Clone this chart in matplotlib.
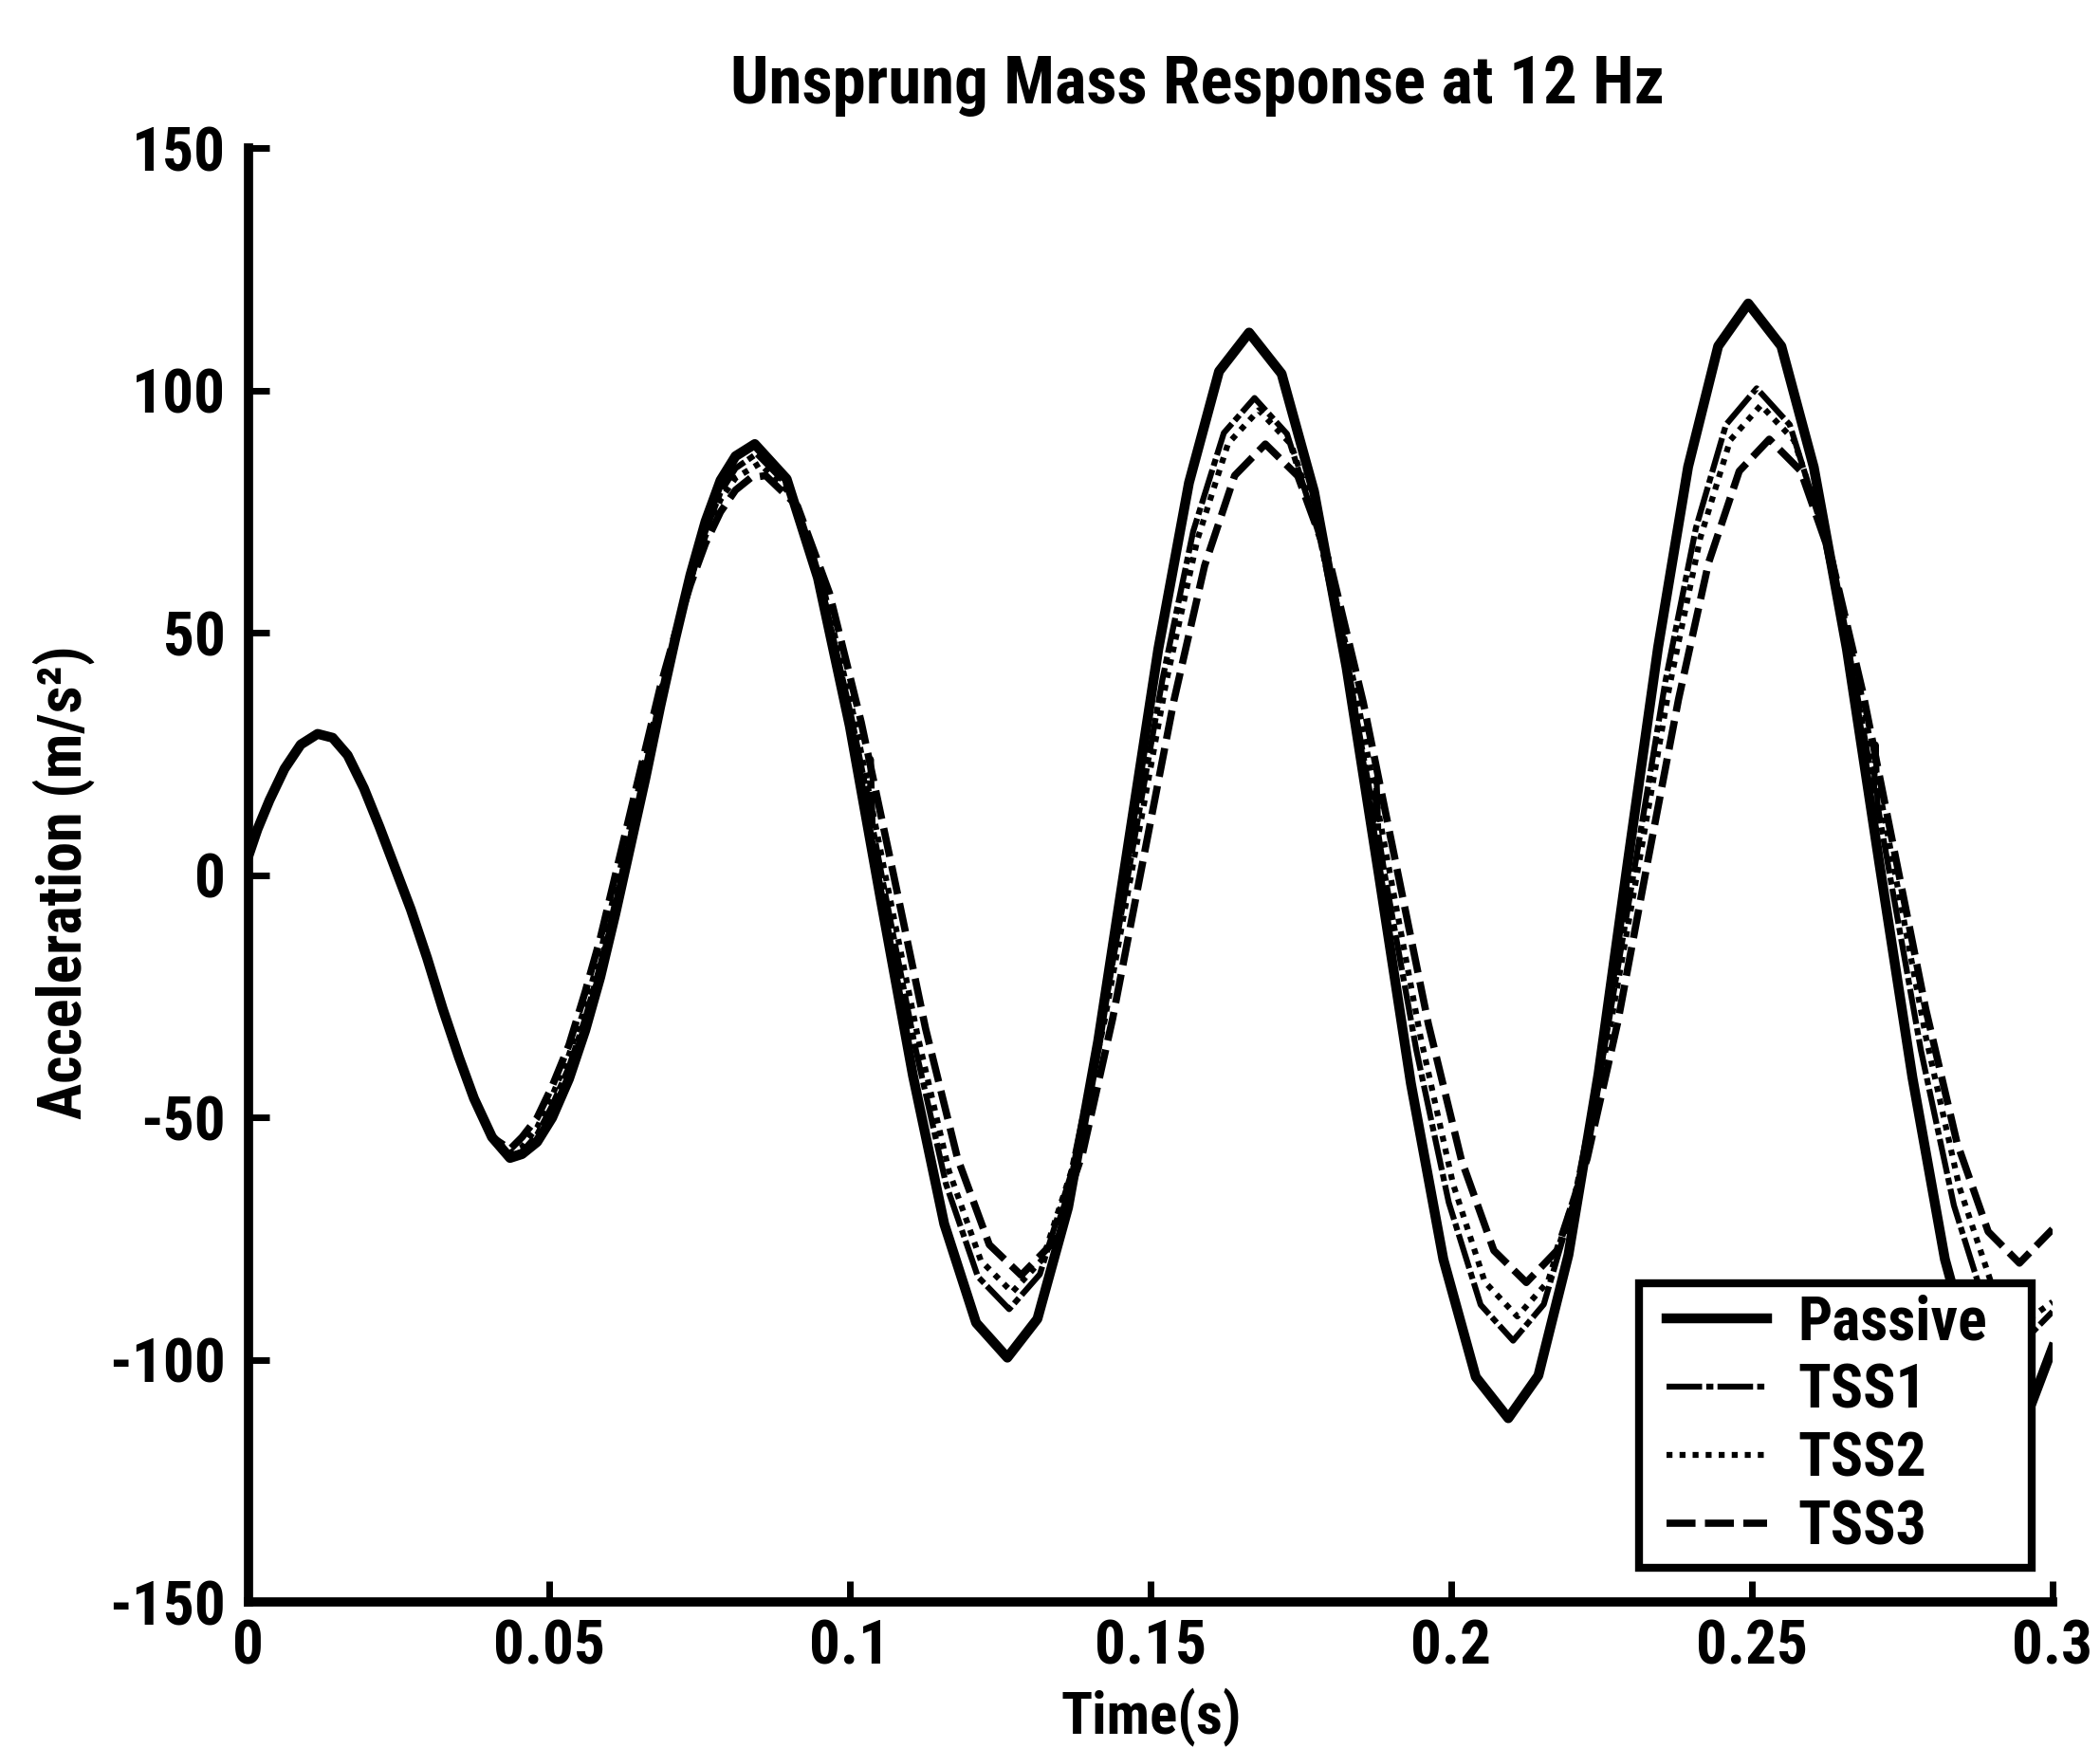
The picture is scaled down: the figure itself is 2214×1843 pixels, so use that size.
import os
import matplotlib
matplotlib.use("Agg")
import matplotlib.pyplot as plt
from matplotlib import font_manager
from matplotlib.font_manager import FontProperties
from matplotlib.lines import Line2D
from matplotlib.legend_handler import HandlerLine2D
import numpy as np

# ---- data: unsprung mass acceleration (m/s^2) vs time (s) ----
# shared start of the response (all four systems coincide here)
start_t = [0, 0.0015, 0.0035, 0.006, 0.0087, 0.0115, 0.014, 0.0165, 0.0192, 0.0218,
           0.0244, 0.027, 0.0297, 0.0323, 0.035, 0.0375, 0.0405]
start_a = [4, 9.5, 15.5, 22, 27, 29.2, 28.4, 24.8, 18, 10,
           1.5, -7, -17, -27.5, -37.5, -46, -54]

passive_t = [0.0435, 0.0455, 0.048, 0.0505, 0.0533, 0.056, 0.0585, 0.061, 0.0635, 0.066,
             0.0685, 0.071, 0.0735, 0.076, 0.0785, 0.081, 0.0842,
             0.0895, 0.0947, 0.1000, 0.1052, 0.1105, 0.1157, 0.1210, 0.1262,
             0.1312, 0.1363, 0.1413, 0.1463, 0.1513, 0.1564, 0.1614, 0.1664,
             0.1718, 0.1772, 0.1826, 0.1880, 0.1933, 0.1987, 0.2041, 0.2095,
             0.2145, 0.2195, 0.2245, 0.2294, 0.2344, 0.2394, 0.2444, 0.2494,
             0.2549, 0.2603, 0.2658, 0.2712, 0.2767, 0.2821, 0.2876, 0.2930, 0.2965, 0.3]
passive_a = [-58.3, -57.5, -55, -50, -42, -32, -21, -8, 6, 20,
             35, 49, 62, 73, 81.5, 86.5, 89,
             81.8, 61.4, 30.8, -5.3, -41.3, -71.9, -92.3, -99.5,
             -91.5, -68.5, -34.2, 6.3, 46.7, 81.0, 104.0, 112,
             103.5, 79.2, 42.9, 0, -42.9, -79.2, -103.5, -112,
             -103.2, -78.3, -41.0, 3, 47.0, 84.3, 109.2, 118,
             109.2, 84.2, 46.7, 2.5, -41.7, -79.2, -104.2, -113, -109, -97.5]

tss1_t = [0.0435, 0.0455, 0.048, 0.0505, 0.0533, 0.056, 0.0585, 0.061, 0.0635, 0.066,
          0.0685, 0.071, 0.0735, 0.076, 0.0785, 0.081, 0.0845,
          0.0898, 0.0950, 0.1003, 0.1033, 0.1035, 0.1038, 0.1055, 0.1108, 0.1160, 0.1213, 0.1265,
          0.1316, 0.1367, 0.1418, 0.1469, 0.1520, 0.1571, 0.1622, 0.1673,
          0.1727, 0.1781, 0.1834, 0.1873, 0.1876, 0.1879, 0.1888, 0.1942, 0.1996, 0.2049, 0.2103,
          0.2154, 0.2204, 0.2255, 0.2306, 0.2356, 0.2407, 0.2457, 0.2508,
          0.2563, 0.2617, 0.2672, 0.2703, 0.2706, 0.2709, 0.2727, 0.2781, 0.2836, 0.2890, 0.2945, 0.3]
tss1_a = [-57.8, -57, -53.5, -47.5, -39.5, -29.5, -18.5, -5.5, 8, 21.5,
          35.5, 49, 61, 71, 79, 84, 87,
          80.3, 61.2, 32.5, 14, 24, 10, -1.3, -35.0, -63.7, -82.8, -89.5,
          -82.3, -62.0, -31.5, 4.5, 40.5, 71.0, 91.3, 98.5,
          91.1, 70.0, 38.5, 11.5, 20, 8.5, 1.3, -36.0, -67.5, -88.6, -96,
          -88.5, -67.2, -35.4, 2.3, 39.9, 71.7, 93.0, 100.5,
          93.0, 71.6, 39.5, 17.5, 27, 14.5, 1.8, -36.0, -68.1, -89.5, -97, -90]

tss2_t = [0.0435, 0.0455, 0.048, 0.0505, 0.0533, 0.056, 0.0585, 0.061, 0.0635, 0.066,
          0.0685, 0.071, 0.0735, 0.076, 0.0785, 0.081, 0.085,
          0.0903, 0.0955, 0.1008, 0.106, 0.1113, 0.1165, 0.1218, 0.127,
          0.1321, 0.1373, 0.1424, 0.1475, 0.1526, 0.1578, 0.1629, 0.168,
          0.1734, 0.1788, 0.1841, 0.1895, 0.1949, 0.2003, 0.2056, 0.211,
          0.2161, 0.2211, 0.2262, 0.2313, 0.2363, 0.2414, 0.2464, 0.2515,
          0.257, 0.2625, 0.268, 0.2735, 0.279, 0.2845, 0.29, 0.2955, 0.3]
tss2_a = [-57.2, -56, -52, -45.5, -37, -27, -16, -3, 10.5, 24,
          37.5, 50, 61, 70, 77.5, 82, 85,
          78.5, 60.0, 32.2, -0.5, -33.2, -61.0, -79.5, -86,
          -79.1, -59.3, -29.8, 5, 39.8, 69.3, 89.1, 96,
          88.9, 68.6, 38.3, 2.5, -33.3, -63.6, -83.9, -91,
          -83.8, -63.5, -33.0, 3, 39.0, 69.5, 89.8, 97,
          89.8, 69.3, 38.7, 2.5, -33.7, -64.3, -84.8, -92, -88]

tss3_t = [0.0435, 0.0455, 0.048, 0.0505, 0.0533, 0.056, 0.0585, 0.061, 0.0635, 0.066,
          0.0685, 0.071, 0.0735, 0.076, 0.0785, 0.081, 0.0835, 0.086,
          0.0913, 0.0966, 0.1019, 0.1073, 0.1126, 0.1179, 0.1232, 0.1285,
          0.1336, 0.1387, 0.1437, 0.1488, 0.1539, 0.1590, 0.1640, 0.1691,
          0.1745, 0.1800, 0.1854, 0.1908, 0.1962, 0.2017, 0.2071, 0.2125,
          0.2176, 0.2226, 0.2277, 0.2327, 0.2378, 0.2428, 0.2479, 0.2529,
          0.2581, 0.2633, 0.2685, 0.2737, 0.2789, 0.2841, 0.2893, 0.2945, 0.3]
tss3_a = [-56.5, -54, -50, -43.5, -35, -24, -13, 0, 13, 26,
          39, 50, 60, 68.5, 75, 79.5, 82, 82.5,
          76.2, 58.3, 31.6, 0, -31.6, -58.3, -76.2, -82.5,
          -76.0, -57.4, -29.6, 3.3, 36.1, 63.9, 82.5, 89,
          82.4, 63.7, 35.6, 2.5, -30.6, -58.7, -77.4, -84,
          -77.4, -58.5, -30.3, 3, 36.3, 64.5, 83.4, 90,
          83.5, 65.1, 37.5, 5, -27.5, -55.1, -73.5, -80, -73]

series_names = ["Passive", "TSS1", "TSS2", "TSS3"]
x_ticks = [0, 0.05, 0.1, 0.15, 0.2, 0.25, 0.3]
x_tick_labels = ["0", "0.05", "0.1", "0.15", "0.2", "0.25", "0.3"]
y_ticks = [-150, -100, -50, 0, 50, 100, 150]
y_tick_labels = ["-150", "-100", "-50", "0", "50", "100", "150"]


# ---- fonts: prefer a bold narrow/condensed sans if one is installed ----
def condensed_bold_font():
    prefs = ["liberation sans narrow", "roboto condensed", "open sans condensed",
             "noto sans", "dejavu sans", "open sans", "roboto", "lato", "inter"]
    best, best_rank = None, None
    for f in font_manager.fontManager.ttflist:
        name = f.name.lower()
        base = os.path.basename(f.fname).lower()
        if "mono" in name or ("serif" in name and "sans" not in name):
            continue
        if f.style != "normal":
            continue
        stretch = str(f.stretch).lower()
        narrow = ("narrow" in name or "condensed" in name or "condensed" in base
                  or "narrow" in base
                  or stretch in ("condensed", "semi-condensed", "extra-condensed"))
        weight = f.weight if isinstance(f.weight, int) else {"bold": 700}.get(str(f.weight), 400)
        if not narrow or weight < 600 or weight > 800:
            continue
        rank = next((i for i, p in enumerate(prefs) if name.startswith(p)), len(prefs))
        if best_rank is None or rank < best_rank:
            best, best_rank = f.fname, rank
    return best


narrow_path = condensed_bold_font()
if narrow_path:
    def fp(size):
        return FontProperties(fname=narrow_path, size=size)
    k = 1.0
else:
    def fp(size):
        return FontProperties(family=["Liberation Sans", "DejaVu Sans"],
                              weight="bold", size=size)
    k = 0.84

fig = plt.figure(figsize=(22.14, 18.43), dpi=100)
fig.patch.set_facecolor("white")
ax = fig.add_axes([0.1183, 0.0833, 0.8591, 0.8318])

styles = [
    dict(ls="-", lw=7.5),
    dict(ls=(0, (6, 0.7, 1.2, 0.7)), lw=4.5),
    dict(ls=(0, (1, 1.2)), lw=4.5),
    dict(ls=(0, (4, 1.3)), lw=5.5),
]
curves = [
    (start_t + passive_t, start_a + passive_a),
    (start_t + tss1_t, start_a + tss1_a),
    (start_t + tss2_t, start_a + tss2_a),
    (start_t + tss3_t, start_a + tss3_a),
]
for name, (t, a), st in zip(series_names, curves, styles):
    ax.plot(np.array(t), np.array(a), color="black", linestyle=st["ls"],
            linewidth=st["lw"], label=name, solid_joinstyle="round")

ax.set_xlim(0, 0.3)
ax.set_ylim(-150, 150)
ax.set_xticks(x_ticks, labels=x_tick_labels)
ax.set_yticks(y_ticks, labels=y_tick_labels)
ax.tick_params(direction="in", length=16, width=5, colors="black")
ax.tick_params(axis="x", pad=12)
ax.tick_params(axis="y", pad=17)
for lab in ax.get_xticklabels() + ax.get_yticklabels():
    lab.set_fontproperties(fp(47 * k))

for side in ("top", "right"):
    ax.spines[side].set_visible(False)
for side in ("left", "bottom"):
    ax.spines[side].set_linewidth(7)
    ax.spines[side].set_color("black")

fig.text(0.570, 0.9409, "Unsprung Mass Response at 12 Hz", ha="center",
         va="baseline", fontproperties=fp(51 * k))
fig.text(0.548, 0.0081, "Time(s)", ha="center", va="baseline",
         fontproperties=fp(44 * k))
fig.text(0.0303, 0.4954, "Acceleration (m/s²)", rotation=90, ha="center",
         va="center", fontproperties=fp(46 * k))

# legend box spans x 1728..2142 px and y 1345..1653 px of the figure
leg_size = 46 * k
leg_px = leg_size * 100 / 72
ax_l, ax_r, ax_b, ax_t = 262, 2164, 1689.5, 156.5
box = ((1728 - ax_l) / (ax_r - ax_l), (ax_b - 1653) / (ax_b - ax_t),
       (2142 - 1728) / (ax_r - ax_l), (1653 - 1345) / (ax_b - ax_t))
pad_px = 11.5
leg = ax.legend(loc="lower left", bbox_to_anchor=box, mode="expand",
                borderaxespad=0, prop=fp(leg_size),
                handlelength=(1863 - 1728 - pad_px) / leg_px,
                handletextpad=32 / leg_px,
                labelspacing=(71 - 0.94 * leg_px) / leg_px,
                borderpad=pad_px / leg_px,
                handler_map={Line2D: HandlerLine2D(xpad=(1757 - 1728 - pad_px) / leg_px)},
                fancybox=False, framealpha=1, edgecolor="black")
leg.get_frame().set_linewidth(6)

fig.savefig("out.png", dpi=100, facecolor="white")
